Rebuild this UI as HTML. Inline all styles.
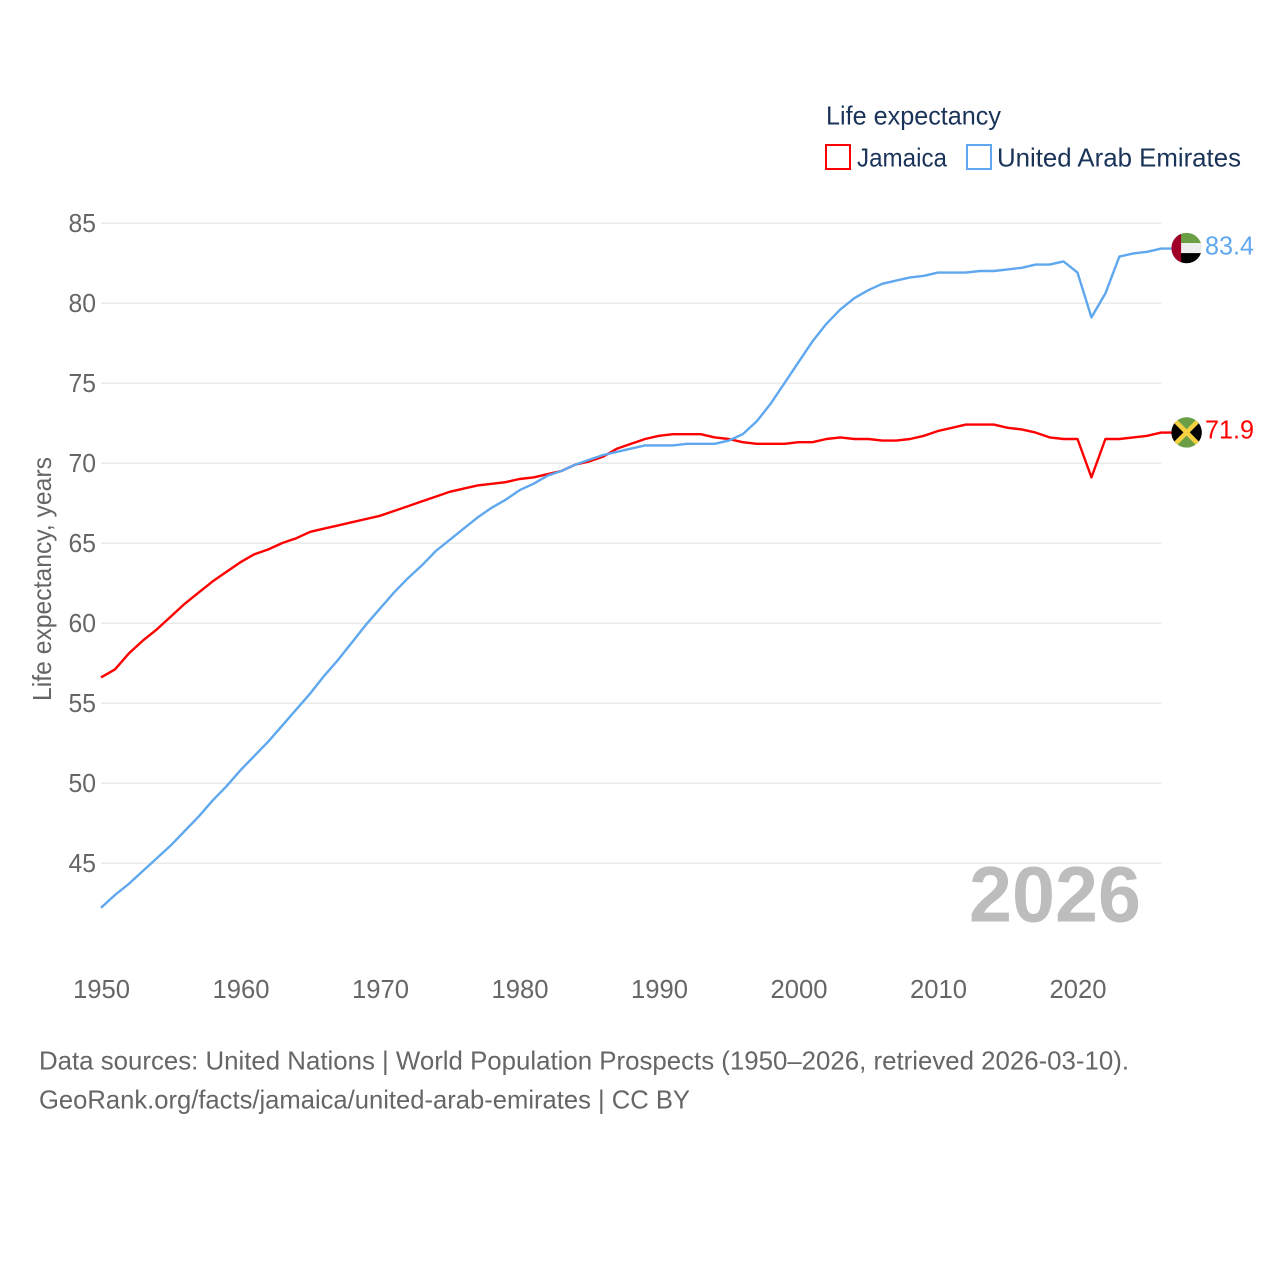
<!DOCTYPE html>
<html lang="en">
<head>
<meta charset="utf-8">
<title>Life expectancy: Jamaica and United Arab Emirates</title>
<style>
html,body{margin:0;padding:0;background:#fff;}
svg{display:block;font-family:"Liberation Sans",sans-serif;}
</style>
</head>
<body>
<svg id="chart" xmlns="http://www.w3.org/2000/svg" width="1280" height="1280" viewBox="0 0 1280 1280">
  <defs>
    <clipPath id="flag-clip-uae"><circle id="clip-uae" r="15.2"></circle></clipPath>
    <clipPath id="flag-clip-jam"><circle id="clip-jam" r="15.2"></circle></clipPath>
  </defs>
  <rect width="1280" height="1280" fill="#fff"></rect>
  <g id="grid"></g>
  <g id="yticks"></g>
  <g id="xticks"></g>
  <text transform="translate(51,701) rotate(-90)" font-size="26" fill="#666" textLength="244" lengthAdjust="spacingAndGlyphs">Life expectancy, years</text>
  <text x="969" y="921.5" font-size="79" font-weight="700" fill="#bdbdbd" textLength="172" lengthAdjust="spacingAndGlyphs">2026</text>
  <g id="series"></g>
  <g id="labels"></g>
  <g>
    <text x="826" y="124.5" font-size="26" fill="#1a3358" textLength="175" lengthAdjust="spacingAndGlyphs">Life expectancy</text>
    <g>
      <rect x="826" y="145" width="24" height="24" fill="#fff" stroke="#ff0000" stroke-width="2"></rect>
      <text x="857" y="166.5" font-size="26" fill="#1a3358" textLength="90" lengthAdjust="spacingAndGlyphs">Jamaica</text>
    </g>
    <g>
      <rect x="967" y="145" width="24" height="24" fill="#fff" stroke="#5fa8ef" stroke-width="2"></rect>
      <text x="997" y="166.5" font-size="26" fill="#1a3358" textLength="244" lengthAdjust="spacingAndGlyphs">United Arab Emirates</text>
    </g>
  </g>
  <g>
    <text x="39" y="1069.5" font-size="26" fill="#666" textLength="1090" lengthAdjust="spacingAndGlyphs">Data sources: United Nations | World Population Prospects (1950–2026, retrieved 2026-03-10).</text>
    <text x="39" y="1108.5" font-size="26" fill="#666" textLength="651" lengthAdjust="spacingAndGlyphs">GeoRank.org/facts/jamaica/united-arab-emirates | CC BY</text>
  </g>
</svg>
<script>
const firstYear = 1950;
const yTickValues = [45, 50, 55, 60, 65, 70, 75, 80, 85];
const xTickValues = [1950, 1960, 1970, 1980, 1990, 2000, 2010, 2020];
const jamaicaValues = [
  56.6, 57.1, 58.1, 58.9, 59.6, 60.4, 61.2, 61.9, 62.6, 63.2,
  63.8, 64.3, 64.6, 65.0, 65.3, 65.7, 65.9, 66.1, 66.3, 66.5,
  66.7, 67.0, 67.3, 67.6, 67.9, 68.2, 68.4, 68.6, 68.7, 68.8,
  69.0, 69.1, 69.3, 69.5, 69.9, 70.1, 70.4, 70.9, 71.2, 71.5,
  71.7, 71.8, 71.8, 71.8, 71.6, 71.5, 71.3, 71.2, 71.2, 71.2,
  71.3, 71.3, 71.5, 71.6, 71.5, 71.5, 71.4, 71.4, 71.5, 71.7,
  72.0, 72.2, 72.4, 72.4, 72.4, 72.2, 72.1, 71.9, 71.6, 71.5,
  71.5, 69.1, 71.5, 71.5, 71.6, 71.7, 71.9
];
const uaeValues = [
  42.2, 43.0, 43.7, 44.5, 45.3, 46.1, 47.0, 47.9, 48.9, 49.8,
  50.8, 51.7, 52.6, 53.6, 54.6, 55.6, 56.7, 57.7, 58.8, 59.9,
  60.9, 61.9, 62.8, 63.6, 64.5, 65.2, 65.9, 66.6, 67.2, 67.7,
  68.3, 68.7, 69.2, 69.5, 69.9, 70.2, 70.5, 70.7, 70.9, 71.1,
  71.1, 71.1, 71.2, 71.2, 71.2, 71.4, 71.8, 72.6, 73.7, 75.0,
  76.3, 77.6, 78.7, 79.6, 80.3, 80.8, 81.2, 81.4, 81.6, 81.7,
  81.9, 81.9, 81.9, 82.0, 82.0, 82.1, 82.2, 82.4, 82.4, 82.6,
  81.9, 79.1, 80.6, 82.9, 83.1, 83.2, 83.4
];

const NS = 'http://www.w3.org/2000/svg';
function xScale(year) { return 101 + (year - 1950) * 13.95; }
function yScale(value) { return 223 + (85 - value) * 16; }
function make(parent, tag, attrs) {
  const node = document.createElementNS(NS, tag);
  for (const key in attrs) node.setAttribute(key, attrs[key]);
  parent.appendChild(node);
  return node;
}
const lastYear = firstYear + jamaicaValues.length - 1;
const grid = document.getElementById('grid');
const yticks = document.getElementById('yticks');
const xticks = document.getElementById('xticks');
const series = document.getElementById('series');
const labels = document.getElementById('labels');
const flagX = 1186.6;

yTickValues.forEach(function (v) {
  const line = make(grid, 'line', { x1: xScale(firstYear), x2: xScale(lastYear), y1: yScale(v) + 0.3, y2: yScale(v) + 0.3, stroke: '#eaeaea', 'stroke-width': 1.5 });
  
  
  const label = make(yticks, 'text', { x: 96, y: yScale(v) + 9, 'text-anchor': 'end', 'font-size': 26, fill: '#666', textLength: 27.5, lengthAdjust: 'spacingAndGlyphs' });
  
  
  label.textContent = v;
});

xTickValues.forEach(function (yr) {
  const label = make(xticks, 'text', { x: xScale(yr) + 0.5, y: 998, 'text-anchor': 'middle', 'font-size': 26, fill: '#666', textLength: 57, lengthAdjust: 'spacingAndGlyphs' });
  
  
  label.textContent = yr;
});

function pathFor(values) {
  const pts = values.map(function (v, i) {
    return (i ? 'L' : 'M') + xScale(firstYear + i).toFixed(2) + ' ' + yScale(v).toFixed(2);
  });
  pts.push('L' + (flagX - 15) + ' ' + yScale(values[values.length - 1]).toFixed(2));
  return pts.join(' ');
}
const jamaicaLine = make(series, 'path', { d: pathFor(jamaicaValues), fill: 'none', stroke: '#ff0000', 'stroke-width': 2.4, 'stroke-linejoin': 'round' });


const uaeLine = make(series, 'path', { d: pathFor(uaeValues), fill: 'none', stroke: '#5fa8ef', 'stroke-width': 2.4, 'stroke-linejoin': 'round' });



const yUae = yScale(uaeValues[uaeValues.length - 1]) - 0.5;
const yJam = yScale(jamaicaValues[jamaicaValues.length - 1]) - 0.2;
const clipUae = document.getElementById('clip-uae');
clipUae.setAttribute('cx', flagX);
clipUae.setAttribute('cy', yUae);
const clipJam = document.getElementById('clip-jam');
clipJam.setAttribute('cx', flagX);
clipJam.setAttribute('cy', yJam);

const flagUae = make(labels, 'g', { 'clip-path': 'url(#flag-clip-uae)' });


make(flagUae, 'rect', { x: flagX - 16, y: yUae - 16, width: 32, height: 11, fill: '#6a9f45' });
make(flagUae, 'rect', { x: flagX - 16, y: yUae - 5, width: 32, height: 10, fill: '#eeeeee' });
make(flagUae, 'rect', { x: flagX - 16, y: yUae + 5, width: 32, height: 11, fill: '#000000' });
make(flagUae, 'rect', { x: flagX - 16, y: yUae - 16, width: 10.5, height: 32, fill: '#a00028' });

const flagJam = make(labels, 'g', { 'clip-path': 'url(#flag-clip-jam)' });


make(flagJam, 'rect', { x: flagX - 16, y: yJam - 16, width: 32, height: 32, fill: '#6a9f45' });
make(flagJam, 'path', { d: 'M' + (flagX - 16) + ' ' + (yJam - 16) + ' L' + flagX + ' ' + yJam + ' L' + (flagX - 16) + ' ' + (yJam + 16) + ' Z', fill: '#000' });
make(flagJam, 'path', { d: 'M' + (flagX + 16) + ' ' + (yJam - 16) + ' L' + flagX + ' ' + yJam + ' L' + (flagX + 16) + ' ' + (yJam + 16) + ' Z', fill: '#000' });
make(flagJam, 'path', { d: 'M' + (flagX - 16) + ' ' + (yJam - 16) + ' L' + (flagX + 16) + ' ' + (yJam + 16) + ' M' + (flagX + 16) + ' ' + (yJam - 16) + ' L' + (flagX - 16) + ' ' + (yJam + 16), stroke: '#f5d142', 'stroke-width': 4.5, fill: 'none' });

const valueUae = make(labels, 'text', { x: 1205, y: yScale(uaeValues[uaeValues.length - 1]) + 6, 'font-size': 26, fill: '#5fa8ef', textLength: 49, lengthAdjust: 'spacingAndGlyphs' });


valueUae.textContent = uaeValues[uaeValues.length - 1].toFixed(1);
const valueJam = make(labels, 'text', { x: 1205, y: yScale(jamaicaValues[jamaicaValues.length - 1]) + 6, 'font-size': 26, fill: '#ff0000', textLength: 49, lengthAdjust: 'spacingAndGlyphs' });


valueJam.textContent = jamaicaValues[jamaicaValues.length - 1].toFixed(1);
</script>
</body>
</html>
